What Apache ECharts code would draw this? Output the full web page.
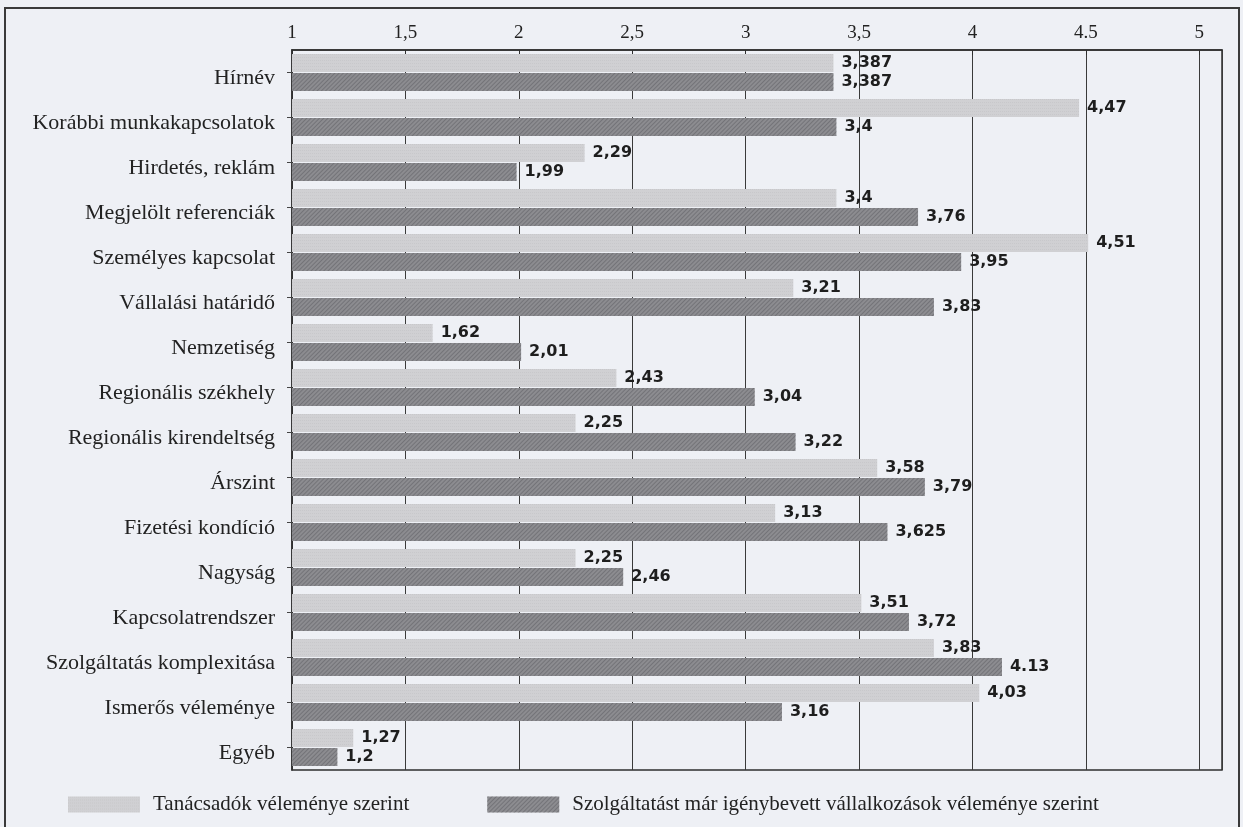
<!DOCTYPE html>
<html>
<head>
<meta charset="utf-8">
<script src="https://cdn.jsdelivr.net/npm/echarts@6/dist/echarts.min.js"></script>
<style>
  html, body { margin: 0; padding: 0; background: #eef0f5; }
  #chart { width: 1243px; height: 827px; }
</style>
</head>
<body>
<div id="chart"></div>
<script>
// Selection criteria, top to bottom
const categories = [
  'Hírnév', 'Korábbi munkakapcsolatok', 'Hirdetés, reklám', 'Megjelölt referenciák',
  'Személyes kapcsolat', 'Vállalási határidő', 'Nemzetiség', 'Regionális székhely',
  'Regionális kirendeltség', 'Árszint', 'Fizetési kondíció', 'Nagyság',
  'Kapcsolatrendszer', 'Szolgáltatás komplexitása', 'Ismerős véleménye', 'Egyéb'
];

// Average scores, consultants' view
const consultants = [3.387, 4.47, 2.29, 3.4, 4.51, 3.21, 1.62, 2.43, 2.25, 3.58, 3.13, 2.25, 3.51, 3.83, 4.03, 1.27];

// Average scores, view of firms that already used the service
const clients = [3.387, 3.4, 1.99, 3.76, 3.95, 3.83, 2.01, 3.04, 3.22, 3.79, 3.625, 2.46, 3.72, 4.13, 3.16, 1.2];

// Series names
const seriesNames = ['Tanácsadók véleménye szerint', 'Szolgáltatást már igénybevett vállalkozások véleménye szerint'];

// Scale tick labels as printed (one uses a decimal point)
const tickLabels = { 1: '1', 1.5: '1,5', 2: '2', 2.5: '2,5', 3: '3', 3.5: '3,5', 4: '4', 4.5: '4.5', 5: '5' };

// Client-series labels printed with a decimal point instead of a comma
const clientPointLabels = ['Szolgáltatás komplexitása'];

const fmt = (v, usePoint) => usePoint ? String(v) : String(v).replace('.', ',');

const chart = echarts.init(document.getElementById('chart'));

const valueLabel = {
  show: true,
  position: 'right',
  distance: 8,
  fontFamily: 'DejaVu Sans, Liberation Sans, sans-serif',
  fontWeight: 'bold',
  fontSize: 16,
  color: '#1e1e1e'
};

chart.setOption({
  backgroundColor: '#eef0f5',
  animation: false,
  graphic: [{
    type: 'rect',
    shape: { x: 5, y: 8, width: 1234, height: 900 },
    style: { fill: 'none', stroke: '#3a3a3a', lineWidth: 2 },
    silent: true
  }],
  grid: {
    left: 292, right: 21, top: 50, bottom: 57,
    show: true, borderColor: '#2e2e2e', borderWidth: 1.5,
    backgroundColor: 'transparent'
  },
  legend: {
    left: 63, top: 789,
    itemWidth: 72, itemHeight: 16, itemGap: 78,
    icon: 'rect',
    textStyle: {
      fontFamily: 'Liberation Serif, Times New Roman, serif',
      fontSize: 21, color: '#222',
      padding: [0, 0, 0, 8]
    },
    data: seriesNames
  },
  xAxis: {
    type: 'value',
    position: 'top',
    min: 1, max: 5.1, interval: 0.5,
    axisLine: { show: true, lineStyle: { color: '#2e2e2e', width: 1.5 } },
    axisTick: { show: true, inside: true, length: 5, lineStyle: { color: '#2e2e2e' } },
    axisLabel: {
      showMaxLabel: false,
      margin: 7,
      fontFamily: 'Liberation Serif, Times New Roman, serif',
      fontSize: 19, color: '#222',
      formatter: v => tickLabels[v] !== undefined ? tickLabels[v] : ''
    },
    splitLine: { show: true, lineStyle: { color: '#3a3a3a', width: 1 } }
  },
  yAxis: {
    type: 'category',
    inverse: true,
    data: categories,
    axisLine: { show: true, lineStyle: { color: '#2e2e2e', width: 1.5 } },
    axisTick: { show: true, alignWithLabel: true, length: 5, lineStyle: { color: '#444' } },
    axisLabel: {
      margin: 17,
      verticalAlign: 'top',
      lineHeight: 12,
      fontFamily: 'Liberation Serif, Times New Roman, serif',
      fontSize: 22, color: '#222'
    }
  },
  series: [{
    name: seriesNames[0],
    type: 'bar',
    data: consultants,
    barWidth: 18,
    barGap: '6%',
    itemStyle: {
      color: '#d0d0d3',
      decal: {
        symbol: 'rect', symbolSize: 0.6,
        dashArrayX: [1, 1], dashArrayY: [1, 2],
        color: 'rgba(150,150,155,0.45)', rotation: 0
      }
    },
    label: Object.assign({}, valueLabel, { formatter: p => fmt(p.value, false) })
  }, {
    name: seriesNames[1],
    type: 'bar',
    data: clients,
    barWidth: 18,
    barGap: '6%',
    itemStyle: {
      color: '#8c8c90',
      decal: {
        symbol: 'rect', symbolSize: 1,
        dashArrayX: [1, 0], dashArrayY: [1, 2],
        color: 'rgba(95,95,100,0.55)', rotation: -Math.PI / 4
      }
    },
    label: Object.assign({}, valueLabel, {
      formatter: p => fmt(p.value, clientPointLabels.includes(p.name))
    })
  }]
});
</script>
</body>
</html>
